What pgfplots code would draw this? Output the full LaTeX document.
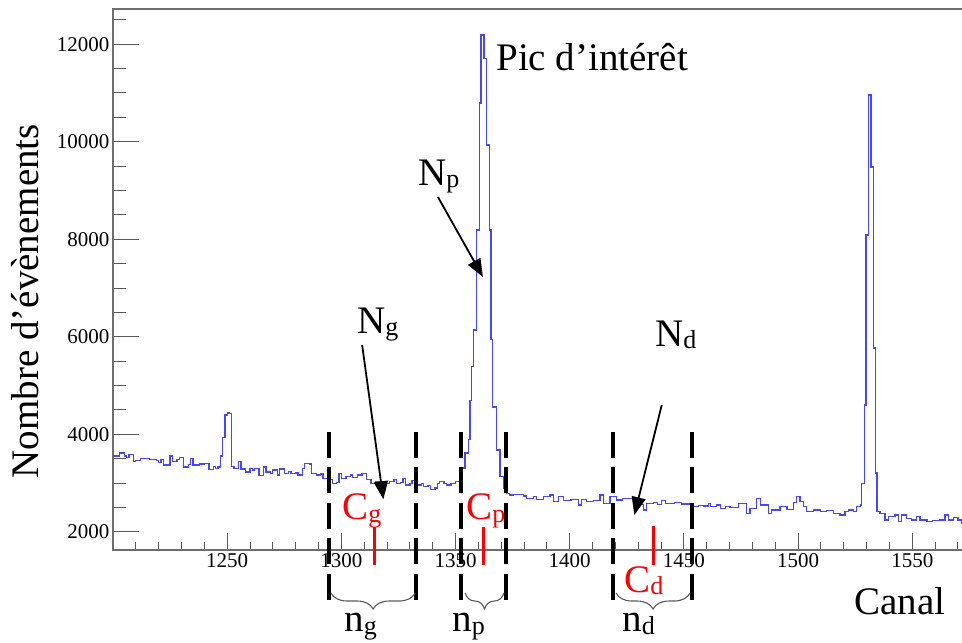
\documentclass[border=0pt]{standalone}
\usepackage{fontspec}
\setmainfont{Liberation Serif}
\usepackage{pgfplots}
\pgfplotsset{compat=1.18}
\usetikzlibrary{arrows.meta,decorations.pathreplacing}
\definecolor{histblue}{RGB}{70,70,255}
\definecolor{axgray}{RGB}{110,110,110}
\newcommand{\bigf}{\fontsize{39}{42}\selectfont}
\newcommand{\subf}{\fontsize{26}{28}\selectfont}
\newcommand{\lbl}[2]{{\bigf #1}\raisebox{-2.5pt}{\subf #2}}
\begin{document}
\begin{tikzpicture}
\begin{axis}[name=ax, scale only axis, width=852pt, height=541pt,
  xmin=1200, xmax=1573.1, ymin=1630, ymax=12720,
  axis line style={axgray, line width=1.2pt},
  xtick={1250,1300,...,1550}, ytick={2000,4000,...,12000},
  minor xtick={1210,1220,...,1570}, minor ytick={2500,3000,...,12500},
  tick align=inside, tick pos=left,
  major tick length=22pt, minor tick length=11pt,
  xtick style={/pgfplots/major tick length=17pt,/pgfplots/minor tick length=8pt},
  ytick style={/pgfplots/major tick length=26pt,/pgfplots/minor tick length=13pt},
  tick style={black!65, line width=1pt},
  ticklabel style={font=\fontsize{21}{23}\selectfont},
  /pgf/number format/assume math mode=true,
  /pgf/number format/set thousands separator={},
  scaled ticks=false,
  clip=false,
  label style={font=\bigf},
  xlabel={Canal},
  ylabel={Nombre d’évènements},
  xlabel style={at={(axis description cs:0.9237,-0.1183)}, anchor=base},
  ylabel style={at={(axis description cs:-0.0869,0.460)}, anchor=base},
]
\addplot[const plot, histblue, line width=1.3pt] table {
1200 3560
1203 3620
1205 3560
1206 3520
1207 3590
1209 3440
1210 3470
1212 3500
1216 3490
1219 3470
1220 3420
1221 3490
1222 3370
1225 3560
1226 3440
1228 3490
1229 3520
1231 3330
1233 3380
1234 3500
1235 3370
1238 3390
1240 3410
1242 3280
1244 3340
1245 3300
1246 3330
1247 3560
1248 3930
1249 4400
1250 4440
1251 4430
1252 3340
1253 3300
1255 3450
1256 3290
1258 3230
1260 3300
1261 3270
1262 3300
1264 3160
1266 3330
1267 3230
1269 3200
1270 3270
1272 3170
1273 3290
1275 3200
1277 3240
1278 3200
1280 3210
1281 3170
1283 3300
1284 3410
1286 3390
1287 3200
1289 3170
1291 3190
1292 3100
1294 3070
1296 3000
1298 3020
1299 3200
1300 3100
1302 3130
1304 3170
1305 3110
1307 3170
1309 3200
1311 3070
1313 3000
1315 3030
1317 2990
1319 3000
1321 3030
1323 3080
1324 3000
1326 3020
1327 3100
1328 2960
1330 3000
1331 3060
1333 2960
1335 2990
1336 2930
1338 2950
1339 2870
1341 2900
1342 3000
1343 3030
1345 2990
1346 2960
1348 3000
1350 3030
1352.7 3310
1354.1 3620
1355.6 3890
1356.3 4700
1357.0 5390
1357.8 6140
1359.2 8190
1360.4 10790
1361.1 12190
1362.5 11710
1363.6 9930
1364.8 8190
1365.5 5940
1366.2 4560
1368.0 3680
1369.5 3130
1370.9 2900
1372.4 2790
1373.5 2757
1375.3 2771
1379.7 2737
1381.2 2689
1384.1 2723
1385.6 2668
1388.5 2723
1391.4 2757
1392.9 2620
1395.0 2723
1397.2 2641
1400.5 2660
1403.8 2552
1405.3 2668
1407.5 2620
1410.5 2640
1413.3 2757
1414.8 2586
1417.7 2723
1420.6 2655
1423.0 2690
1425.0 2689
1427.9 2518
1430.0 2560
1432.3 2450
1433.7 2586
1436.7 2600
1438.5 2560
1440.3 2641
1441.8 2586
1446.0 2600
1449.1 2573
1452.7 2586
1454.2 2518
1456.5 2540
1458.6 2532
1460.7 2586
1461.5 2518
1464.4 2552
1465.9 2484
1468.1 2518
1470.2 2504
1473.9 2586
1477.5 2381
1479.0 2484
1481.9 2689
1483.4 2552
1487.0 2381
1488.5 2450
1492.1 2518
1495.1 2463
1498.0 2600
1499.4 2723
1500.9 2620
1502.4 2518
1503.8 2415
1506.7 2450
1509.7 2415
1512.5 2440
1515.5 2381
1518.4 2350
1520.6 2415
1522.0 2450
1524.2 2415
1525.7 2518
1527.2 2552
1527.9 3000
1529.0 4600
1529.7 8090
1530.8 10960
1531.9 9480
1533.0 5770
1534.0 3210
1534.6 2415
1535.9 2381
1538.1 2244
1539.6 2313
1542.5 2347
1544.0 2210
1545.4 2347
1547.6 2279
1549.8 2244
1552.0 2313
1553.4 2244
1556.4 2210
1559.0 2240
1562.2 2244
1564.4 2347
1565.8 2244
1568.0 2290
1570.0 2244
1571.7 2176
1573.1 2176
};
% dashed window limits
\foreach \cx in {1294.6,1332.7,1352.4,1372.1,1419.0,1453.6}{
  \edef\temp{\noexpand\draw[black, line width=3.3pt, dash pattern=on 26pt off 9.5pt] (axis cs:\cx,4049) -- (axis cs:\cx,605);}
  \temp
}
% red centroid ticks
\draw[red, line width=3pt] (axis cs:1314.3,2101) -- (axis cs:1314.3,1322);
\draw[red, line width=3pt] (axis cs:1362.2,2101) -- (axis cs:1362.2,1322);
\draw[red, line width=3pt] (axis cs:1436.9,2122) -- (axis cs:1436.9,1322);
\node[anchor=base west, inner sep=0, text=red] at (axis cs:1300.3,2245) {\lbl{C}{g}};
\node[anchor=base west, inner sep=0, text=red] at (axis cs:1354.6,2245) {\lbl{C}{p}};
\node[anchor=base west, inner sep=0, text=red] at (axis cs:1423.8,769) {\lbl{C}{d}};
% arrows
\draw[black, line width=1.8pt, -{Triangle[length=18pt,width=14pt]}] (axis cs:1342.3,8866) -- (axis cs:1362.0,7226);
\draw[black, line width=1.8pt, -{Triangle[length=18pt,width=14pt]}] (axis cs:1309.1,5832) -- (axis cs:1318.4,2669);
\draw[black, line width=1.8pt, -{Triangle[length=18pt,width=14pt]}] (axis cs:1440.3,4602) -- (axis cs:1428.3,2347);
\node[anchor=base west, inner sep=0] at (axis cs:1333.6,9112) {\lbl{N}{p}};
\node[anchor=base west, inner sep=0] at (axis cs:1306.9,6078) {\lbl{N}{g}};
\node[anchor=base west, inner sep=0] at (axis cs:1437.4,5807) {\lbl{N}{d}};
\node[anchor=base west, inner sep=0, font=\bigf] at (axis cs:1367.8,11449) {Pic d’intérêt};
% braces
\draw[decorate, decoration={brace, mirror, amplitude=16pt}, black!65, line width=1.1pt] (axis cs:1295.5,748) -- (axis cs:1332.3,748);
\draw[decorate, decoration={brace, mirror, amplitude=16pt}, black!65, line width=1.1pt] (axis cs:1354.2,748) -- (axis cs:1371.2,748);
\draw[decorate, decoration={brace, mirror, amplitude=16pt}, black!65, line width=1.1pt] (axis cs:1420.3,748) -- (axis cs:1452.7,748);
\node[anchor=base west, inner sep=0] at (axis cs:1301.2,-50) {\lbl{n}{g}};
\node[anchor=base west, inner sep=0] at (axis cs:1348.5,-50) {\lbl{n}{p}};
\node[anchor=base west, inner sep=0] at (axis cs:1423.0,-50) {\lbl{n}{d}};
\end{axis}
\pgfresetboundingbox
\path[use as bounding box] (ax.south west) ++(-113pt,-93pt) rectangle ++(962pt,643pt);
\end{tikzpicture}
\end{document}
